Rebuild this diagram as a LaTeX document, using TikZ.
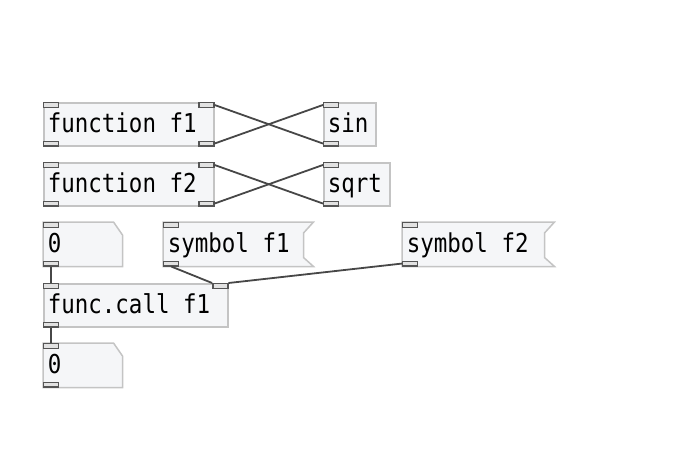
\documentclass[tikz,border=0pt]{standalone}
\usepackage{fontspec}
\setmonofont{DejaVu Sans Mono}[FakeStretch=0.865]
\usetikzlibrary{positioning, backgrounds, calc}
\definecolor{pdFill}{HTML}{F5F6F8}
\definecolor{pdBorder}{HTML}{C4C4C4}
\definecolor{pdPort}{HTML}{555555}
\definecolor{pdPortFill}{HTML}{E2E2E2}
\definecolor{pdWire}{HTML}{474747}
\newcommand\pdfont{\ttfamily\fontsize{26}{30}\selectfont}
\newcommand\pdsp{\kern\fontcharwd\font48\relax}

\begin{document}
\begin{tikzpicture}[
  x=1pt, y=-1pt,
  font=\pdfont,
  obj/.style={draw=pdBorder, fill=pdFill, line width=1.5pt, anchor=north west,
              minimum height=43pt, inner xsep=4pt, inner ysep=0pt,
              text height=16.4pt, text depth=0pt, align=left, text width=#1},
  atom/.style={obj=#1, draw=none, fill=none},
  frame/.style={draw=pdBorder, fill=pdFill, line width=1.5pt},
  port/.style={draw=pdPort, fill=pdPortFill, line width=1.4pt, minimum width=15pt,
               minimum height=4.5pt, inner sep=0pt},
  wire/.style={draw=pdWire, line width=1.8pt}
]
\useasboundingbox (0,0) rectangle (684,448);

\node[obj=162pt] (fn1) at (43,102) {function\pdsp f1};
\node[obj=44pt] (sin) at (323,102) {sin};
\node[obj=162pt] (fn2) at (43,162) {function\pdsp f2};
\node[obj=58pt] (sqrt) at (323,162) {sqrt};
\node[atom=70pt] (num1) at (43,222) {0};
\node[atom=141pt] (sym1) at (163,222) {symbol\pdsp f1};
\node[atom=143pt] (sym2) at (402,222) {symbol\pdsp f2};
\node[obj=176pt] (call) at (43,283) {func.call\pdsp f1};
\node[atom=70pt] (num2) at (43,343) {0};

% number and message boxes
\begin{scope}[on background layer]
\foreach \n in {num1, num2}
  \draw[frame] (\n.north west) -- ($(\n.north east)+(-9,0)$) -- ($(\n.north east)+(0,13)$)
    -- (\n.south east) -- (\n.south west) -- cycle;
\foreach \n in {sym1, sym2}
  \draw[frame] (\n.north west) -- (\n.north east) -- ($(\n.north east)+(-10,11)$)
    -- ($(\n.south east)+(-10,-9)$) -- (\n.south east) -- (\n.south west) -- cycle;
\end{scope}

% inlets and outlets
\foreach \n in {fn1, fn2, sin, sqrt, num1, num2, sym1, sym2, call} {
  \node[port, anchor=north west] (\n-i1) at (\n.north west) {};
  \node[port, anchor=south west] (\n-o1) at (\n.south west) {};
}
\foreach \n in {fn1, fn2} {
  \node[port, anchor=north east] (\n-i2) at (\n.north east) {};
  \node[port, anchor=south east] (\n-o2) at (\n.south east) {};
}
\node[port, anchor=north east] (call-i2) at (call.north east) {};

\draw[wire] (fn1-o2.east) -- (sin-i1.west);
\draw[wire] (sin-o1.west) -- (fn1-i2.east);
\draw[wire] (fn2-o2.east) -- (sqrt-i1.west);
\draw[wire] (sqrt-o1.west) -- (fn2-i2.east);
\draw[wire] (num1-o1.south) -- (call-i1.north);
\draw[wire] (call-o1.south) -- (num2-i1.north);
\draw[wire] (sym1-o1.south) -- (call-i2.north west);
\draw[wire] (sym2-o1.west) -- (call-i2.north east);
\end{tikzpicture}
\end{document}
